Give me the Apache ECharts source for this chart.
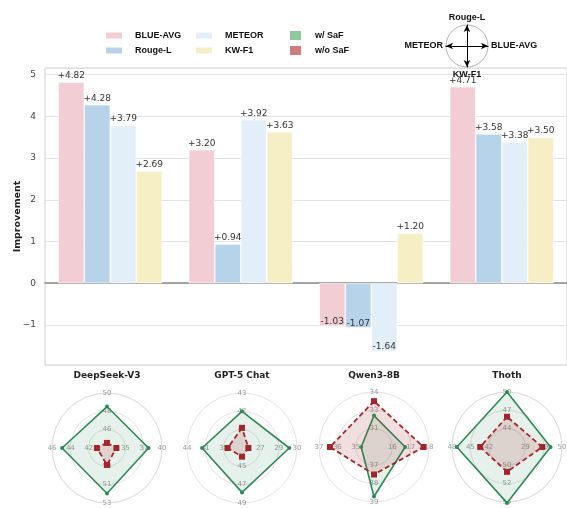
<!DOCTYPE html>
<html>
<head>
<meta charset="utf-8">
<script src="https://cdn.jsdelivr.net/npm/echarts@6/dist/echarts.min.js"></script>
<style>
  html, body { margin: 0; padding: 0; background: #fff; }
  #chart { width: 567px; height: 508px; }
</style>
</head>
<body>
<div id="chart"></div>
<script>
// 模型 / 指标
const models = ['DeepSeek-V3', 'GPT-5 Chat', 'Qwen3-8B', 'Thoth']
const metrics = ['BLUE-AVG', 'Rouge-L', 'METEOR', 'KW-F1']

// improvement (w/ SaF - w/o SaF), one value per model
const blueAvg = [4.82, 3.20, -1.03, 4.71]
const rougeL = [4.28, 0.94, -1.07, 3.58]
const meteor = [3.79, 3.92, -1.64, 3.38]
const kwF1 = [2.69, 3.63, 1.20, 3.50]

// radar axes: top, left, bottom, right
const radarAxes = ['Rouge-L', 'METEOR', 'KW-F1', 'BLUE-AVG']
// each axis has its own range, per model
const radarMin = [
  [43.5, 40.0, 47.9, 31.8],
  [40.0, 35.6, 43.3, 25.7],
  [29.8, 33.8, 35.9, 14.9],
  [41.6, 39.7, 47.8, 18.4]
]
const radarMax = [
  [50.0, 46.0, 53.1, 40.0],
  [43.0, 44.0, 49.0, 30.0],
  [34.0, 36.8, 38.9, 17.9],
  [49.6, 47.7, 54.0, 49.6]
]
// raw scores
const withSaF = [
  [48.4, 44.9, 52.2, 38.0],
  [42.0, 41.7, 47.9, 29.4],
  [32.2, 34.5, 38.6, 16.6],
  [49.6, 47.0, 54.1, 43.1]
]
const withoutSaF = [
  [44.1, 41.1, 49.5, 33.2],
  [41.1, 37.8, 44.2, 26.2],
  [33.3, 36.2, 37.4, 17.6],
  [46.0, 43.6, 50.6, 38.4]
]

const barColors = ['#f2cdd4', '#b7d3ea', '#e2eff9', '#f6efc6']
const green = '#2f8a55'
const red = '#a3262c'
const radarCenters = [[107, 448], [242, 448], [374, 447], [507, 447]]
const legendText = { fontFamily: 'Liberation Sans', fontWeight: 'bold', fontSize: 9, color: '#111', lineHeight: 11 }

const chart = echarts.init(document.getElementById('chart'))

const barSeries = [blueAvg, rougeL, meteor, kwF1].map(function(vals, i) {
  return {
    name: metrics[i],
    type: 'bar',
    barWidth: 26,
    barGap: '0%',
    itemStyle: { color: barColors[i], borderColor: '#fff', borderWidth: 0.6 },
    label: {
      show: true,
      fontFamily: 'DejaVu Sans',
      fontSize: 9,
      color: '#333',
      formatter: function(p) {
        return (p.value > 0 ? '+' : '') + p.value.toFixed(2)
      }
    },
    data: vals.map(function(v) {
      // 负值标签放在柱子底端
      return v < 0
        ? { value: v, label: { position: 'insideBottom', distance: 0 } }
        : { value: v, label: { position: 'top', distance: 2 } }
    })
  }
})

const radars = models.map(function(m, k) {
  return {
    center: radarCenters[k],
    radius: 55,
    shape: 'circle',
    splitNumber: 3,
    startAngle: 90,
    indicator: radarAxes.map(function(a, j) {
      return { name: a, min: radarMin[k][j], max: radarMax[k][j] }
    }),
    axisName: { show: false },
    splitLine: { lineStyle: { color: '#dcdcdc', width: 0.8 } },
    splitArea: { show: false },
    axisLine: { show: false },
    axisLabel: {
      show: true,
      color: '#9a9a9a',
      fontSize: 7,
      fontFamily: 'DejaVu Sans',
      margin: 0,
      align: 'center',
      verticalAlign: 'middle',
      formatter: function(v, i) {
        return i === 0 ? '' : String(Math.round(v))
      }
    }
  }
})

// 右上角方向说明
radars.push({
  center: [467, 46],
  radius: 21,
  shape: 'circle',
  splitNumber: 1,
  startAngle: 90,
  nameGap: 3,
  indicator: radarAxes.map(function(a) { return { name: a, min: 0, max: 1 } }),
  axisName: { show: true, color: '#111', fontFamily: 'Liberation Sans', fontWeight: 'bold', fontSize: 9 },
  splitLine: { lineStyle: { color: '#b3b3b3', width: 1 } },
  splitArea: { show: false },
  axisLine: { show: true, symbol: ['none', 'arrow'], symbolSize: [5, 7], lineStyle: { color: '#000', width: 1 } },
  axisLabel: { show: false }
})

const radarSeries = models.map(function(m, k) {
  return {
    type: 'radar',
    radarIndex: k,
    data: [
      {
        name: 'w/ SaF',
        value: withSaF[k],
        symbol: 'circle',
        symbolSize: 4,
        itemStyle: { color: green },
        lineStyle: { color: green, width: 1.6 },
        areaStyle: { color: 'rgba(47,138,85,0.17)' }
      },
      {
        name: 'w/o SaF',
        value: withoutSaF[k],
        symbol: 'rect',
        symbolSize: 6,
        itemStyle: { color: red },
        lineStyle: { color: red, width: 1.8, type: [5, 3] },
        areaStyle: { color: 'rgba(163,38,44,0.22)' }
      }
    ]
  }
})

const option = {
  animation: false,
  backgroundColor: '#fff',
  title: models.map(function(m, k) {
    return {
      text: m,
      left: radarCenters[k][0],
      top: 371,
      padding: 0,
      textAlign: 'center',
      textStyle: { fontFamily: 'DejaVu Sans', fontSize: 9, fontWeight: 'bold', color: '#222' }
    }
  }),
  legend: [
    { left: 104, top: 30, orient: 'vertical', itemGap: 4, itemWidth: 18, itemHeight: 8, icon: 'rect', padding: 0,
      textStyle: Object.assign({ padding: [0, 0, 0, 7] }, legendText), data: ['BLUE-AVG', 'Rouge-L'] },
    { left: 194, top: 30, orient: 'vertical', itemGap: 4, itemWidth: 18, itemHeight: 8, icon: 'rect', padding: 0,
      textStyle: Object.assign({ padding: [0, 0, 0, 7] }, legendText), data: ['METEOR', 'KW-F1'] },
    { left: 290, top: 30, orient: 'vertical', itemGap: 4, itemWidth: 11, itemHeight: 9, padding: 0,
      textStyle: Object.assign({ padding: [0, 0, 0, 9] }, legendText),
      data: [
        { name: 'w/ SaF', icon: 'rect', itemStyle: { color: '#8fc79f' } },
        { name: 'w/o SaF', icon: 'rect', itemStyle: { color: '#cf7c80' } }
      ] }
  ],
  grid: { left: 45, right: 0, top: 68, bottom: 143, show: true, borderColor: '#cfcfcf', borderWidth: 1, outerBoundsMode: 'none', containLabel: false },
  xAxis: {
    type: 'category',
    data: models,
    axisLabel: { show: false },
    axisTick: { show: false },
    axisLine: { onZero: true, lineStyle: { color: '#8a8a8a', width: 1.5 } }
  },
  yAxis: {
    type: 'value',
    min: -1.96,
    max: 5.16,
    name: 'Improvement',
    nameLocation: 'middle',
    nameGap: 22,
    nameMoveOverlap: false,
    nameTextStyle: { fontFamily: 'DejaVu Sans', fontSize: 9.5, fontWeight: 'bold', color: '#222' },
    axisLine: { show: false },
    axisTick: { show: false },
    splitLine: { lineStyle: { color: '#e3e3e3', width: 1 } },
    axisLabel: {
      showMinLabel: false,
      showMaxLabel: false,
      fontFamily: 'DejaVu Sans',
      fontSize: 9,
      color: '#444',
      margin: 9,
      formatter: function(v) {
        if (Math.abs(v - Math.round(v)) > 1e-6) return ''
        return v < 0 ? '\u2212' + Math.abs(Math.round(v)) : String(Math.round(v))
      }
    }
  },
  radar: radars,
  series: barSeries.concat(radarSeries)
}

chart.setOption(option)
</script>
</body>
</html>
